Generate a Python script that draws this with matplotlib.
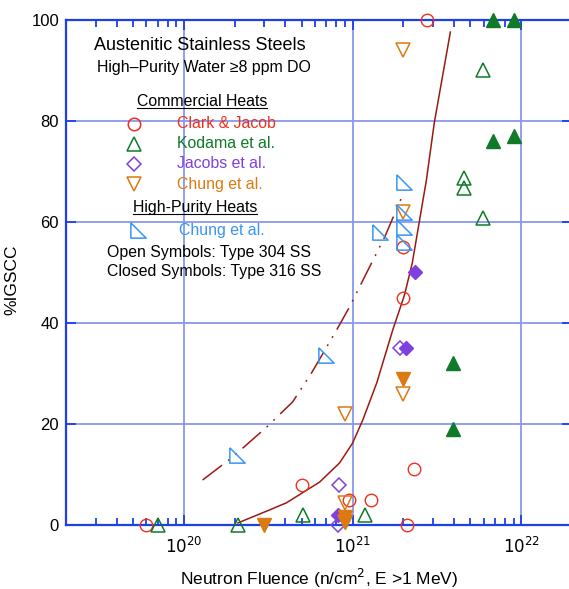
import matplotlib
matplotlib.use("Agg")
import matplotlib.pyplot as plt
from matplotlib.ticker import LogLocator, NullFormatter, FixedLocator

plt.rcParams['font.family'] = ['Liberation Sans', 'DejaVu Sans']

# ---------------- data ----------------
clark_x = [6.0e19, 5.0e20, 9.5e20, 1.28e21, 2.3e21, 2.09e21, 2.0e21, 2.0e21, 2.78e21]
clark_y = [0, 8, 5, 5, 11, 0, 45, 55, 100]

kodama_open_x = [7.0e19, 2.09e20, 5.06e20, 1.19e21, 5.96e21, 4.6e21, 4.6e21, 5.96e21]
kodama_open_y = [0, 0, 2, 2, 90, 68.7, 66.7, 60.8]
kodama_fill_x = [6.8e21, 9.1e21, 6.8e21, 9.1e21, 3.96e21, 3.96e21]
kodama_fill_y = [100, 100, 76, 77, 32, 19]

jacobs_open_x = [8.3e20, 8.2e20, 1.92e21]
jacobs_open_y = [8, 0, 35]
jacobs_fill_x = [8.2e20, 2.06e21, 2.33e21]
jacobs_fill_y = [2, 35, 50]

chung_open_x = [2.0e21, 8.97e20, 2.0e21, 9.0e20, 9.0e20, 2.0e21]
chung_open_y = [94, 22, 26, 4.4, 0.5, 62]
chung_fill_x = [2.97e20, 9.0e20, 9.0e20, 2.0e21]
chung_fill_y = [0, 1.5, 0.5, 29]

chung_hp_x = [2.06e20, 7.0e20, 1.45e21, 2.03e21, 2.03e21, 2.03e21, 2.03e21]
chung_hp_y = [13.9, 33.7, 58, 68, 62, 59, 56]

curve_hp_x = [1.29e20, 1.92e20, 3.10e20, 4.42e20, 5.71e20, 8.04e20, 9.6e20, 1.21e21, 1.55e21, 1.95e21]
curve_hp_y = [8.9, 13.3, 19.4, 24.4, 30.1, 38.6, 43.2, 49.9, 57.0, 64.8]

curve_com_x = [2.09e20, 3.23e20, 4.06e20, 6.38e20, 8.38e20, 1.0e21, 1.15e21, 1.39e21,
               1.73e21, 2.03e21, 2.26e21, 2.74e21, 3.05e21, 3.8e21]
curve_com_y = [0.4, 3.0, 4.4, 8.5, 12.3, 16.2, 20.8, 28.1, 38.6, 45.5, 51.9, 68.3, 79.6, 97.6]

x_ticks = [1e20, 1e21, 1e22]
x_ticklabels = [r'$10^{20}$', r'$10^{21}$', r'$10^{22}$']
y_ticks = [0, 20, 40, 60, 80, 100]

# ---------------- style ----------------
RED = '#F0301E'
GREEN = '#0F7A28'
PURPLE = '#8040E0'
ORANGE = '#DC7A12'
BLUE = '#3A95F5'
CURVE = '#9A1A12'
SPINE = '#1F3FE8'
GRID = '#8898EE'

rtri = [(-1, 1), (-1, -1), (1, -1), (-1, 1)]

fig = plt.figure(figsize=(5.69, 5.89), dpi=100)
ax = fig.add_axes([0.116, 0.1087, 0.8893, 0.8574])

ax.set_xscale('log')
ax.set_xlim(2e19, 2e22)
ax.set_ylim(0, 100)

ax.xaxis.set_major_locator(FixedLocator(x_ticks))
ax.set_xticklabels(x_ticklabels)
ax.xaxis.set_minor_locator(LogLocator(base=10, subs=range(2, 10)))
ax.xaxis.set_minor_formatter(NullFormatter())
ax.set_yticks(y_ticks)
ax.set_yticklabels([str(v) for v in y_ticks])

ax.grid(True, which='major', color=GRID, linewidth=1.3, zorder=0)
for s in ax.spines.values():
    s.set_color(SPINE)
    s.set_linewidth(1.6)
ax.tick_params(which='both', direction='in', top=True, right=True, color=SPINE, width=1.3)
ax.tick_params(which='major', length=7, labelsize=12, pad=5)
ax.tick_params(axis='x', which='major', pad=8)
ax.tick_params(which='minor', length=5)
ax.set_axisbelow(True)

# curves
ax.plot(curve_hp_x, curve_hp_y, color=CURVE, lw=1.1, linestyle=(0, (16, 5, 1.2, 5, 1.2, 5)), zorder=3)
ax.plot(curve_com_x, curve_com_y, color=CURVE, lw=1.1, zorder=3)

ms = 9
kw = dict(linestyle='none', clip_on=False, zorder=5)
ax.plot(clark_x, clark_y, marker='o', ms=ms, mfc='none', mec=RED, mew=1.0, **kw)
ax.plot(kodama_open_x, kodama_open_y, marker='^', ms=ms + 1, mfc='none', mec=GREEN, mew=1.1, **kw)
ax.plot(kodama_fill_x, kodama_fill_y, marker='^', ms=ms + 1, mfc=GREEN, mec=GREEN, mew=1.0, **kw)
ax.plot(jacobs_open_x, jacobs_open_y, marker='D', ms=ms - 2, mfc='none', mec=PURPLE, mew=1.1, **kw)
ax.plot(jacobs_fill_x, jacobs_fill_y, marker='D', ms=ms - 2, mfc=PURPLE, mec=PURPLE, mew=1.0, **kw)
ax.plot(chung_open_x, chung_open_y, marker='v', ms=ms + 1, mfc='none', mec=ORANGE, mew=1.1, **kw)
ax.plot(chung_fill_x, chung_fill_y, marker='v', ms=ms + 1, mfc=ORANGE, mec=ORANGE, mew=1.0, **kw)
ax.plot(chung_hp_x, chung_hp_y, marker=rtri, ms=ms + 2, mfc='none', mec=BLUE, mew=1.1, **kw)

# labels
ax.set_xlabel(r'Neutron Fluence (n/cm$^2$, E >1 MeV)', fontsize=12.5, labelpad=8)
ax.set_ylabel('%IGSCC', fontsize=12.5)
ax.yaxis.set_label_coords(-0.092, 0.485)

# in-plot legend / annotations
T = ax.transAxes
FS = 11.4
ax.text(0.265, 0.9485, 'Austenitic Stainless Steels', transform=T, ha='center', va='center', fontsize=13)
ax.text(0.273, 0.905, 'High\u2013Purity Water \u22658 ppm DO', transform=T, ha='center', va='center', fontsize=FS)
ax.text(0.269, 0.8376, 'Commercial Heats', transform=T, ha='center', va='center', fontsize=FS)
ax.plot([0.140, 0.397], [0.8257, 0.8257], transform=T, color='black', lw=0.8, clip_on=False)

leg_y = [0.794, 0.7545, 0.715, 0.675]
leg_names = ['Clark & Jacob', 'Kodama et al.', 'Jacobs et al.', 'Chung et al.']
leg_colors = [RED, GREEN, PURPLE, ORANGE]
leg_markers = ['o', '^', 'D', 'v']
leg_sizes = [ms, ms + 1, ms - 2, ms + 1]
for yy, nm, cc, mk, sz in zip(leg_y, leg_names, leg_colors, leg_markers, leg_sizes):
    ax.plot([0.134], [yy], marker=mk, ms=sz, mfc='none', mec=cc, mew=1.1, transform=T, clip_on=False)
    ax.text(0.219, yy, nm, transform=T, ha='left', va='center', fontsize=FS, color=cc)

ax.text(0.255, 0.628, 'High-Purity Heats', transform=T, ha='center', va='center', fontsize=FS)
ax.plot([0.132, 0.377], [0.616, 0.616], transform=T, color='black', lw=0.8, clip_on=False)
ax.plot([0.142], [0.584], marker=rtri, ms=ms + 2, mfc='none', mec=BLUE, mew=1.1, transform=T, clip_on=False)
ax.text(0.223, 0.584, 'Chung et al.', transform=T, ha='left', va='center', fontsize=FS, color=BLUE)

ax.text(0.081, 0.5386, 'Open Symbols: Type 304 SS', transform=T, ha='left', va='center', fontsize=FS)
ax.text(0.081, 0.501, 'Closed Symbols: Type 316 SS', transform=T, ha='left', va='center', fontsize=FS)

fig.savefig('out.png', dpi=100)
